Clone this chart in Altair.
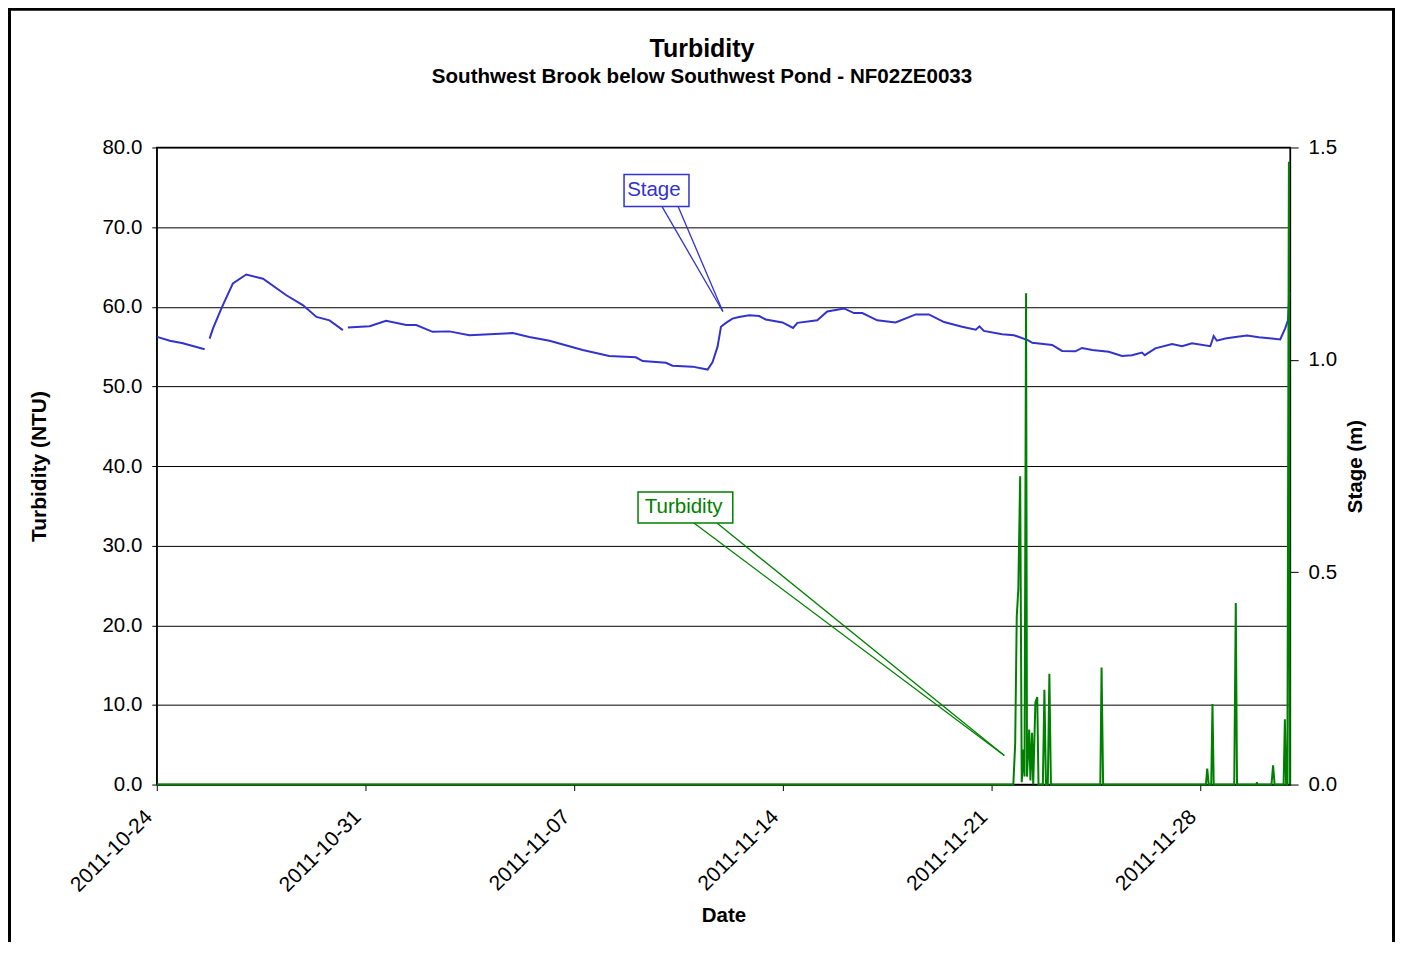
import altair as alt
import pandas as pd

FONT = "Liberation Sans"
BLUE = "#3333CC"
GREEN = "#008000"

# ---------------- data ----------------
stage_time = [
    "2011-10-24T00:15", "2011-10-24T10:30", "2011-10-24T21:00", "2011-10-25T14:30",
    "2011-10-25T18:30", "2011-10-25T21:15", "2011-10-26T04:00", "2011-10-26T13:15",
    "2011-10-27T00:00", "2011-10-27T13:30", "2011-10-28T08:15", "2011-10-28T21:30",
    "2011-10-29T08:30", "2011-10-29T19:00", "2011-10-30T05:45",
    "2011-10-30T09:45", "2011-10-31T03:15", "2011-10-31T16:30", "2011-11-01T08:45",
    "2011-11-01T16:45", "2011-11-02T06:00", "2011-11-02T19:30", "2011-11-03T11:30",
    "2011-11-04T22:30", "2011-11-05T11:45", "2011-11-06T04:00", "2011-11-07T06:45",
    "2011-11-08T04:00", "2011-11-09T01:30", "2011-11-09T07:00", "2011-11-10T01:45",
    "2011-11-10T07:00", "2011-11-10T23:00", "2011-11-11T11:15", "2011-11-11T15:15",
    "2011-11-11T19:15", "2011-11-11T22:00", "2011-11-12T02:00", "2011-11-12T07:15",
    "2011-11-12T12:30", "2011-11-12T20:45", "2011-11-13T04:45", "2011-11-13T10:00",
    "2011-11-13T23:30", "2011-11-14T08:00", "2011-11-14T11:30", "2011-11-15T03:30",
    "2011-11-15T11:30", "2011-11-16T01:00", "2011-11-16T09:00", "2011-11-16T15:45",
    "2011-11-17T03:45", "2011-11-17T18:30", "2011-11-18T10:45", "2011-11-18T21:15",
    "2011-11-19T09:30", "2011-11-20T00:00", "2011-11-20T11:00", "2011-11-20T14:00",
    "2011-11-20T17:30", "2011-11-21T08:15", "2011-11-21T17:45", "2011-11-22T05:15",
    "2011-11-22T08:30", "2011-11-23T00:30", "2011-11-23T08:30", "2011-11-23T19:15",
    "2011-11-24T00:30", "2011-11-24T08:45", "2011-11-24T22:00", "2011-11-25T08:45",
    "2011-11-25T16:45", "2011-11-26T00:45", "2011-11-26T03:00", "2011-11-26T11:30",
    "2011-11-27T01:00", "2011-11-27T09:00", "2011-11-27T17:00", "2011-11-28T07:45",
    "2011-11-28T10:30", "2011-11-28T13:00", "2011-11-28T19:45", "2011-11-29T04:00",
    "2011-11-29T13:15", "2011-11-29T22:45", "2011-11-30T09:15", "2011-11-30T16:00",
    "2011-11-30T20:00", "2011-11-30T22:15", "2011-11-30T23:30",
]
stage_value = [
    1.054, 1.045, 1.039, 1.025,
    1.050, 1.074, 1.121, 1.180, 1.201, 1.191, 1.152, 1.129, 1.101, 1.093, 1.070,
    1.076, 1.079, 1.092, 1.082, 1.082, 1.066, 1.067, 1.058, 1.063, 1.054,
    1.045, 1.023, 1.009, 1.006, 0.997, 0.993, 0.986, 0.984, 0.977, 0.995,
    1.031, 1.078, 1.087, 1.097, 1.101, 1.105, 1.103, 1.095, 1.088, 1.075,
    1.087, 1.093, 1.114, 1.121, 1.110, 1.110, 1.093, 1.088, 1.107, 1.107,
    1.089, 1.078, 1.071, 1.079, 1.068, 1.060, 1.058, 1.046, 1.040, 1.035,
    1.021, 1.020, 1.028, 1.023, 1.019, 1.009, 1.011, 1.017, 1.011, 1.027,
    1.037, 1.032, 1.039, 1.032, 1.056, 1.045, 1.050, 1.054, 1.057, 1.053,
    1.050, 1.048, 1.074, 1.093, 1.159,
]
# record pieces separated by data gaps
stage_piece = [1] * 4 + [2] * 11 + [3] * 75

turb_time = [
    "2011-10-24T00:00", "2011-11-21T17:15", "2011-11-21T18:45", "2011-11-21T20:00",
    "2011-11-21T21:15", "2011-11-21T22:45", "2011-11-22T00:00", "2011-11-22T01:30",
    "2011-11-22T02:15", "2011-11-22T03:30", "2011-11-22T04:15", "2011-11-22T06:00",
    "2011-11-22T07:00", "2011-11-22T08:15", "2011-11-22T09:15", "2011-11-22T11:00",
    "2011-11-22T12:30", "2011-11-22T13:30", "2011-11-22T17:00", "2011-11-22T18:15",
    "2011-11-22T19:30", "2011-11-22T21:00", "2011-11-22T22:15", "2011-11-22T23:30",
    "2011-11-24T15:15", "2011-11-24T16:15", "2011-11-24T17:30",
    "2011-11-28T04:15", "2011-11-28T05:15", "2011-11-28T06:30",
    "2011-11-28T08:30", "2011-11-28T09:30", "2011-11-28T10:30",
    "2011-11-29T03:00", "2011-11-29T04:15", "2011-11-29T05:15",
    "2011-11-29T21:00", "2011-11-29T21:15", "2011-11-29T21:45",
    "2011-11-30T09:00", "2011-11-30T10:15", "2011-11-30T11:30",
    "2011-11-30T18:45", "2011-11-30T19:45", "2011-11-30T20:45",
    "2011-11-30T21:45", "2011-11-30T23:00", "2011-11-30T23:45",
]
turb_value = [
    0.0, 0.0, 5.2, 21.1,
    24.5, 38.7, 0.3, 4.4,
    1.0, 61.7, 1.0, 6.9,
    0.5, 6.5, 0.0, 10.3,
    11.0, 0.0, 0.0, 11.9,
    0.0, 0.0, 13.9, 0.0,
    0.0, 14.7, 0.0,
    0.0, 2.0, 0.0,
    0.0, 10.1, 0.0,
    0.0, 22.8, 0.0,
    0.0, 0.3, 0.0,
    0.0, 2.4, 0.0,
    0.0, 8.2, 0.0,
    0.0, 78.2, 0.0,
]

week_ticks = [(2011, 10, 24), (2011, 10, 31), (2011, 11, 7), (2011, 11, 14), (2011, 11, 21), (2011, 11, 28)]
date_start = (2011, 10, 24)
date_end = (2011, 12, 1)
turb_ticks = [0, 10, 20, 30, 40, 50, 60, 70, 80]
stage_ticks = [0.0, 0.5, 1.0, 1.5]

# callout labels (box corners, text anchor, pointer lines) in data units (date, NTU)
label_text = ["Stage", "Turbidity"]
label_color = [BLUE, GREEN]
label_box_t1 = ["2011-11-08T16:00", "2011-11-09T03:15"]
label_box_t2 = ["2011-11-10T20:15", "2011-11-12T07:30"]
label_box_v1 = [72.6, 32.85]
label_box_v2 = [76.6, 36.74]
label_text_t = ["2011-11-09T16:00", "2011-11-10T16:00"]
label_text_v = [74.7, 34.8]
pointer_base_t = ["2011-11-09T22:30", "2011-11-10T11:30", "2011-11-11T00:15", "2011-11-11T18:45"]
pointer_base_v = [72.6, 72.6, 32.85, 32.85]
pointer_tip_t = ["2011-11-11T23:30", "2011-11-11T23:30", "2011-11-21T10:00", "2011-11-21T10:00"]
pointer_tip_v = [59.4, 59.4, 3.64, 3.64]
pointer_color = [BLUE, BLUE, GREEN, GREEN]

title_text = "Turbidity"
subtitle_text = "Southwest Brook below Southwest Pond - NF02ZE0033"

# ---------------- tables ----------------
df_stage = pd.DataFrame({"time": stage_time, "stage": stage_value, "piece": stage_piece})
df_turb = pd.DataFrame({"time": turb_time, "turb": turb_value})
df_box = pd.DataFrame({"t1": label_box_t1, "t2": label_box_t2, "v1": label_box_v1,
                       "v2": label_box_v2, "color": label_color})
df_lab = pd.DataFrame({"t": label_text_t, "v": label_text_v, "text": label_text, "color": label_color})
df_ptr = pd.DataFrame({"t1": pointer_base_t, "v1": pointer_base_v, "t2": pointer_tip_t,
                       "v2": pointer_tip_v, "color": pointer_color})


def dt(tpl):
    return alt.DateTime(year=tpl[0], month=tpl[1], date=tpl[2])


W, H = 1135, 638
FS = 20.5

x_scale = alt.Scale(domain=[dt(date_start), dt(date_end)], nice=False)
x_axis = alt.Axis(
    values=[dt(t) for t in week_ticks], format="%Y-%m-%d", labelAngle=315,
    labelAlign="right", labelBaseline="middle", labelPadding=23, labelOffset=-8,
    labelFontSize=21, labelColor="black", tickSize=6, tickColor="black",
    domainColor="black", grid=False, titleFontSize=FS, titleFontWeight="bold",
    titleColor="black", titleX=W / 2, titleY=131, titleBaseline="middle",
    titleAlign="center",
)
left_axis = alt.Axis(
    orient="left", values=turb_ticks, format=".1f", grid=True, gridColor="black",
    gridOpacity=1, gridWidth=1, tickSize=5, tickColor="black", domainColor="black",
    labelPadding=10, labelFontSize=FS, labelColor="black", titleFontSize=21,
    titleFontWeight="bold", titleColor="black", titleAngle=270, titleX=-117,
    titleY=H / 2, titleBaseline="middle", titleAlign="center",
)
right_axis = alt.Axis(
    orient="right", values=stage_ticks, format=".1f", grid=False, tickSize=8,
    tickColor="black", domainColor="black", labelPadding=10, labelFontSize=FS,
    labelColor="black", titleFontSize=FS, titleFontWeight="bold", titleColor="black",
    titleAngle=270, titleX=65, titleY=H / 2, titleBaseline="middle", titleAlign="center",
)
turb_scale = alt.Scale(domain=[0, 80], nice=False)


def X(field):
    return alt.X(f"{field}:T", title="Date", scale=x_scale, axis=x_axis)


def Y(field):
    return alt.Y(f"{field}:Q", title="Turbidity (NTU)", scale=turb_scale, axis=left_axis)


turb_line = alt.Chart(df_turb).mark_line(color=GREEN, strokeWidth=2).encode(
    x=X("time"), y=Y("turb")
)

pointers = alt.Chart(df_ptr).mark_rule(strokeWidth=1.3).encode(
    x=X("t1"), x2="t2", y=Y("v1"), y2="v2",
    color=alt.Color("color:N", scale=None),
)
boxes = alt.Chart(df_box).mark_rect(fill="white", strokeWidth=1.5).encode(
    x=X("t1"), x2="t2", y=Y("v1"), y2="v2",
    stroke=alt.Stroke("color:N", scale=None),
)
labels = alt.Chart(df_lab).mark_text(fontSize=FS, baseline="middle", align="center").encode(
    x=X("t"), y=Y("v"), text="text:N",
    color=alt.Color("color:N", scale=None),
)

df_title = pd.DataFrame({"text": [title_text]})
df_sub = pd.DataFrame({"text": [subtitle_text]})
title_mark = alt.Chart(df_title).mark_text(fontSize=25, fontWeight="bold", color="black",
                                           baseline="middle", align="center").encode(
    x=alt.value(546), y=alt.value(-99), text="text:N")
subtitle_mark = alt.Chart(df_sub).mark_text(fontSize=20.6, fontWeight="bold", color="black",
                                            baseline="middle", align="center").encode(
    x=alt.value(546), y=alt.value(-71), text="text:N")

frame = alt.Chart(df_title).mark_rect(filled=False, stroke="black", strokeWidth=4).encode(
    x=alt.value(-148), x2=alt.value(1239), y=alt.value(-139), y2=alt.value(840)
)

inner = alt.layer(turb_line, pointers, boxes, labels, title_mark, subtitle_mark, frame)

stage_line = alt.Chart(df_stage).mark_line(color=BLUE, strokeWidth=2).encode(
    x=X("time"),
    y=alt.Y("stage:Q", title="Stage (m)", scale=alt.Scale(domain=[0, 1.5], nice=False),
            axis=right_axis),
    detail="piece:N",
)

chart = alt.layer(stage_line, inner).resolve_scale(y="independent").properties(
    width=W, height=H,
    autosize=alt.AutoSizeParams(type="none"),
    padding={"left": 149, "top": 139, "right": 105, "bottom": 157},
    background="white",
).configure(font=FONT).configure_view(stroke="black", strokeWidth=1.5)

chart.save("out.html", embed_options={"renderer": "svg", "actions": False})
